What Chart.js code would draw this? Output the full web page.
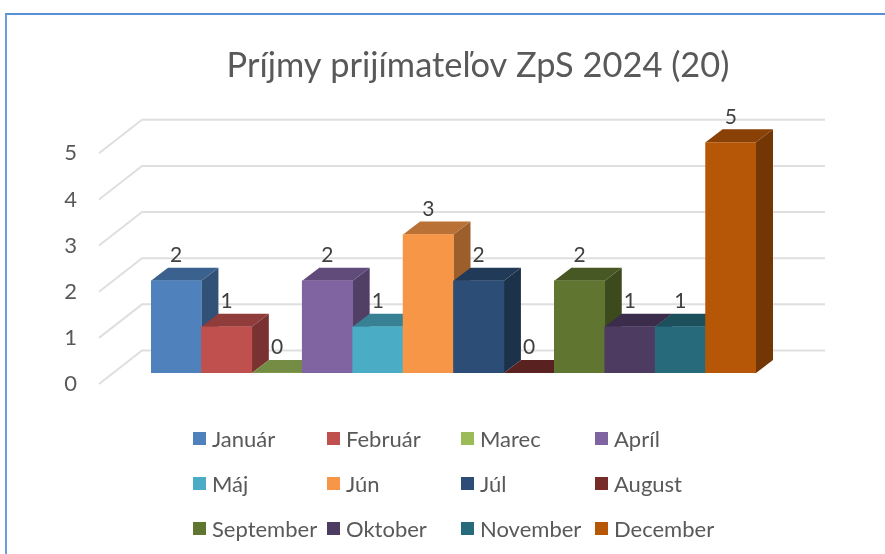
<!DOCTYPE html>
<html lang="sk">
<head>
<meta charset="utf-8">
<title>Príjmy prijímateľov ZpS 2024 (20)</title>
<script src="https://cdn.jsdelivr.net/npm/chart.js@4"></script>
<style>
  html, body { margin: 0; padding: 0; background: #fff; overflow: hidden; }
  #wrap { position: relative; width: 885px; height: 554px; }
  #frame { position: absolute; left: 5px; top: 13px; right: 0; bottom: 0;
           border-top: 2px solid #5b8fd6; border-left: 2px solid #6d9bdb; }
  canvas { position: absolute; left: 0; top: 0; }
  #legend { position: absolute; left: 193px; top: 416px; display: grid;
            grid-template-columns: repeat(4, 134px); grid-auto-rows: 45px;
            font: 22px Lato, sans-serif; color: #595959; }
  .item { display: flex; align-items: center; white-space: nowrap; }
  .box { width: 13px; height: 13px; margin-right: 6px; flex: none; }
</style>
</head>
<body>
<div id="wrap">
  <div id="frame"></div>
  <canvas id="myChart" width="885" height="554"></canvas>
  <div id="legend"></div>
</div>
<script>
const chartTitle = 'Príjmy prijímateľov ZpS 2024 (20)';
const months = ['Január', 'Február', 'Marec', 'Apríl', 'Máj', 'Jún', 'Júl', 'August', 'September', 'Oktober', 'November', 'December'];
const counts = [2, 1, 0, 2, 1, 3, 2, 0, 2, 1, 1, 5];
const colors = ['#4f81bd', '#c0504d', '#9bbb59', '#8064a2', '#4bacc6', '#f79646', '#2c4d75', '#772c2a', '#5f7530', '#4d3b62', '#276a7c', '#b65708'];
const yTicks = [0, 1, 2, 3, 4, 5];

// hlbka 3D sten
const barDepth = { x: 17, y: -13 };
const wallDepth = { x: -9, y: -22.5 };
const wallRight = 825;
const floorLeft = { x: 99, y: 11 };

function shade(hex, f) {
  const n = parseInt(hex.slice(1), 16);
  const c = [n >> 16, (n >> 8) & 255, n & 255].map(v => Math.round(v * f));
  return `rgb(${c[0]},${c[1]},${c[2]})`;
}

function poly(ctx, pts, fill) {
  ctx.beginPath();
  pts.forEach((p, i) => i ? ctx.lineTo(p[0], p[1]) : ctx.moveTo(p[0], p[1]));
  ctx.closePath();
  ctx.fillStyle = fill;
  ctx.fill();
}

// mriezka, bocne a horne steny stlpcov, popisky hodnot
const bars3d = {
  id: 'bars3d',
  afterLayout(chart) {
    // nadpis je centrovany na celu oblast grafu, nie na plochu stlpcov
    chart.titleBlock.left = 71;
    chart.titleBlock.right = 885;
  },
  beforeDatasetsDraw(chart) {
    const ctx = chart.ctx;
    const yScale = chart.scales.y;
    const left = chart.chartArea.left + wallDepth.x;

    ctx.save();
    ctx.strokeStyle = '#dfdfdf';
    ctx.lineWidth = 2;
    yScale.ticks.forEach(t => {
      const py = yScale.getPixelForValue(t.value);
      ctx.beginPath();
      ctx.moveTo(floorLeft.x, py + floorLeft.y);
      ctx.lineTo(left, py + wallDepth.y);
      ctx.lineTo(wallRight, py + wallDepth.y);
      ctx.stroke();
    });

    chart.getDatasetMeta(0).data.forEach((bar, i) => {
      const x0 = bar.x - bar.width / 2;
      const x1 = bar.x + bar.width / 2;
      const d = barDepth;
      poly(ctx, [[x1, bar.y], [x1 + d.x, bar.y + d.y], [x1 + d.x, bar.base + d.y], [x1, bar.base]], shade(colors[i], 0.63));
      poly(ctx, [[x0, bar.y], [x0 + d.x, bar.y + d.y], [x1 + d.x, bar.y + d.y], [x1, bar.y]], shade(colors[i], 0.75));
    });
    ctx.restore();
  },
  afterDatasetsDraw(chart) {
    const ctx = chart.ctx;
    ctx.save();
    ctx.font = '21px Lato, sans-serif';
    ctx.fillStyle = '#404040';
    ctx.textAlign = 'center';
    ctx.textBaseline = 'middle';
    chart.getDatasetMeta(0).data.forEach((bar, i) => {
      ctx.fillText(String(counts[i]), bar.x, bar.y - 25.5);
    });
    ctx.restore();
  }
};

new Chart(document.getElementById('myChart').getContext('2d'), {
  type: 'bar',
  data: {
    labels: months,
    datasets: [{
      label: chartTitle,
      data: counts,
      backgroundColor: colors,
      borderWidth: 0,
      barPercentage: 1,
      categoryPercentage: 1
    }]
  },
  options: {
    responsive: false,
    animation: false,
    layout: { padding: { left: 0, right: 129, top: 0, bottom: 181 } },
    plugins: {
      legend: { display: false },
      tooltip: { enabled: false },
      title: {
        display: true,
        text: chartTitle,
        color: '#595959',
        font: { family: 'Lato, sans-serif', size: 34.4, weight: 'normal' },
        padding: { top: 45, bottom: 56 }
      }
    },
    scales: {
      x: { display: false },
      y: {
        min: 0,
        max: 5,
        afterFit(scale) { scale.width = 151; },
        afterBuildTicks(scale) { scale.ticks = yTicks.map(v => ({ value: v })); },
        grid: { display: false, drawTicks: false },
        border: { display: false },
        ticks: {
          color: '#595959',
          font: { family: 'Lato, sans-serif', size: 22 },
          padding: 74,
          labelOffset: 11
        }
      }
    }
  },
  plugins: [bars3d]
});

// legenda v 4 stlpcoch
const legend = document.getElementById('legend');
months.forEach((m, i) => {
  const item = document.createElement('div');
  item.className = 'item';
  const box = document.createElement('span');
  box.className = 'box';
  box.style.background = colors[i];
  const text = document.createElement('span');
  text.textContent = m;
  item.appendChild(box);
  item.appendChild(text);
  legend.appendChild(item);
});
</script>
</body>
</html>
